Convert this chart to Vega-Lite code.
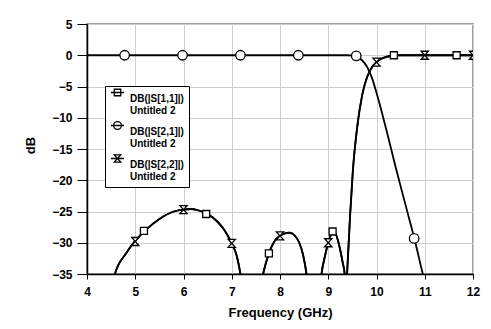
{
  "$schema": "https://vega.github.io/schema/vega-lite/v6.json",
  "width": 386,
  "height": 250,
  "autosize": {"type": "none"},
  "padding": {"left": 87, "top": 24, "right": 18, "bottom": 55},
  "background": "white",
  "config": {
    "view": {"stroke": "#808080", "strokeWidth": 1.5},
    "axis": {
      "labelFont": "Liberation Sans", "labelFontWeight": "bold", "labelFontSize": 12, "labelColor": "black",
      "titleFont": "Liberation Sans", "titleFontWeight": "bold", "titleFontSize": 13, "titleColor": "black",
      "domainColor": "black", "domainWidth": 1.5, "tickColor": "black", "tickWidth": 1,
      "gridColor": "#cfcfcf", "gridWidth": 1, "labelFlush": false, "labelOverlap": false
    },
    "legend": {
      "labelFont": "Liberation Sans", "labelFontWeight": "bold", "labelFontSize": 10, "labelColor": "black"
    }
  },
  "datasets": {
    "curves": [
      {"series": "DB(|S[2,1]|)", "freq": 4.0, "dB": 0},
      {"series": "DB(|S[2,1]|)", "freq": 9.4, "dB": 0},
      {"series": "DB(|S[2,1]|)", "freq": 9.5, "dB": -0.05},
      {"series": "DB(|S[2,1]|)", "freq": 9.6, "dB": -0.25},
      {"series": "DB(|S[2,1]|)", "freq": 9.7, "dB": -0.8},
      {"series": "DB(|S[2,1]|)", "freq": 9.8, "dB": -1.8},
      {"series": "DB(|S[2,1]|)", "freq": 9.9, "dB": -3.5},
      {"series": "DB(|S[2,1]|)", "freq": 10.0, "dB": -6.0},
      {"series": "DB(|S[2,1]|)", "freq": 10.2, "dB": -11.8},
      {"series": "DB(|S[2,1]|)", "freq": 10.4, "dB": -18.0},
      {"series": "DB(|S[2,1]|)", "freq": 10.6, "dB": -23.9},
      {"series": "DB(|S[2,1]|)", "freq": 10.8, "dB": -29.8},
      {"series": "DB(|S[2,1]|)", "freq": 10.96, "dB": -35},
      {"series": "DB(|S[2,1]|)", "freq": 11.1, "dB": -39},

      {"series": "DB(|S[1,1]|)", "freq": 4.3, "dB": -48},
      {"series": "DB(|S[1,1]|)", "freq": 4.58, "dB": -35},
      {"series": "DB(|S[1,1]|)", "freq": 4.8, "dB": -31.8},
      {"series": "DB(|S[1,1]|)", "freq": 5.0, "dB": -29.7},
      {"series": "DB(|S[1,1]|)", "freq": 5.2, "dB": -28.1},
      {"series": "DB(|S[1,1]|)", "freq": 5.5, "dB": -26.2},
      {"series": "DB(|S[1,1]|)", "freq": 5.8, "dB": -25.0},
      {"series": "DB(|S[1,1]|)", "freq": 6.0, "dB": -24.7},
      {"series": "DB(|S[1,1]|)", "freq": 6.15, "dB": -24.6},
      {"series": "DB(|S[1,1]|)", "freq": 6.3, "dB": -24.8},
      {"series": "DB(|S[1,1]|)", "freq": 6.5, "dB": -25.4},
      {"series": "DB(|S[1,1]|)", "freq": 6.7, "dB": -26.6},
      {"series": "DB(|S[1,1]|)", "freq": 6.85, "dB": -28.0},
      {"series": "DB(|S[1,1]|)", "freq": 7.0, "dB": -30.1},
      {"series": "DB(|S[1,1]|)", "freq": 7.1, "dB": -32.0},
      {"series": "DB(|S[1,1]|)", "freq": 7.18, "dB": -35},
      {"series": "DB(|S[1,1]|)", "freq": 7.3, "dB": -42},
      {"series": "DB(|S[1,1]|)", "freq": 7.5, "dB": -42},
      {"series": "DB(|S[1,1]|)", "freq": 7.65, "dB": -35},
      {"series": "DB(|S[1,1]|)", "freq": 7.77, "dB": -31.7},
      {"series": "DB(|S[1,1]|)", "freq": 7.9, "dB": -29.6},
      {"series": "DB(|S[1,1]|)", "freq": 8.0, "dB": -28.9},
      {"series": "DB(|S[1,1]|)", "freq": 8.1, "dB": -28.5},
      {"series": "DB(|S[1,1]|)", "freq": 8.2, "dB": -28.4},
      {"series": "DB(|S[1,1]|)", "freq": 8.3, "dB": -28.8},
      {"series": "DB(|S[1,1]|)", "freq": 8.4, "dB": -30.0},
      {"series": "DB(|S[1,1]|)", "freq": 8.48, "dB": -32.0},
      {"series": "DB(|S[1,1]|)", "freq": 8.55, "dB": -35},
      {"series": "DB(|S[1,1]|)", "freq": 8.65, "dB": -42},
      {"series": "DB(|S[1,1]|)", "freq": 8.78, "dB": -42},
      {"series": "DB(|S[1,1]|)", "freq": 8.86, "dB": -35},
      {"series": "DB(|S[1,1]|)", "freq": 8.93, "dB": -32.2},
      {"series": "DB(|S[1,1]|)", "freq": 9.0, "dB": -30.0},
      {"series": "DB(|S[1,1]|)", "freq": 9.05, "dB": -28.8},
      {"series": "DB(|S[1,1]|)", "freq": 9.1, "dB": -28.2},
      {"series": "DB(|S[1,1]|)", "freq": 9.15, "dB": -28.5},
      {"series": "DB(|S[1,1]|)", "freq": 9.22, "dB": -30.2},
      {"series": "DB(|S[1,1]|)", "freq": 9.3, "dB": -33.2},
      {"series": "DB(|S[1,1]|)", "freq": 9.34, "dB": -35},
      {"series": "DB(|S[1,1]|)", "freq": 9.365, "dB": -38},
      {"series": "DB(|S[1,1]|)", "freq": 9.39, "dB": -35},
      {"series": "DB(|S[1,1]|)", "freq": 9.45, "dB": -26},
      {"series": "DB(|S[1,1]|)", "freq": 9.51, "dB": -18.5},
      {"series": "DB(|S[1,1]|)", "freq": 9.6, "dB": -11.5},
      {"series": "DB(|S[1,1]|)", "freq": 9.7, "dB": -6.5},
      {"series": "DB(|S[1,1]|)", "freq": 9.8, "dB": -3.6},
      {"series": "DB(|S[1,1]|)", "freq": 9.9, "dB": -2.0},
      {"series": "DB(|S[1,1]|)", "freq": 10.0, "dB": -1.1},
      {"series": "DB(|S[1,1]|)", "freq": 10.1, "dB": -0.55},
      {"series": "DB(|S[1,1]|)", "freq": 10.2, "dB": -0.25},
      {"series": "DB(|S[1,1]|)", "freq": 10.3, "dB": -0.1},
      {"series": "DB(|S[1,1]|)", "freq": 10.4, "dB": 0},
      {"series": "DB(|S[1,1]|)", "freq": 12.0, "dB": 0},

      {"series": "DB(|S[2,2]|)", "freq": 4.3, "dB": -48},
      {"series": "DB(|S[2,2]|)", "freq": 4.58, "dB": -35},
      {"series": "DB(|S[2,2]|)", "freq": 4.8, "dB": -31.8},
      {"series": "DB(|S[2,2]|)", "freq": 5.0, "dB": -29.7},
      {"series": "DB(|S[2,2]|)", "freq": 5.2, "dB": -28.1},
      {"series": "DB(|S[2,2]|)", "freq": 5.5, "dB": -26.2},
      {"series": "DB(|S[2,2]|)", "freq": 5.8, "dB": -25.0},
      {"series": "DB(|S[2,2]|)", "freq": 6.0, "dB": -24.7},
      {"series": "DB(|S[2,2]|)", "freq": 6.15, "dB": -24.6},
      {"series": "DB(|S[2,2]|)", "freq": 6.3, "dB": -24.8},
      {"series": "DB(|S[2,2]|)", "freq": 6.5, "dB": -25.4},
      {"series": "DB(|S[2,2]|)", "freq": 6.7, "dB": -26.6},
      {"series": "DB(|S[2,2]|)", "freq": 6.85, "dB": -28.0},
      {"series": "DB(|S[2,2]|)", "freq": 7.0, "dB": -30.1},
      {"series": "DB(|S[2,2]|)", "freq": 7.1, "dB": -32.0},
      {"series": "DB(|S[2,2]|)", "freq": 7.18, "dB": -35},
      {"series": "DB(|S[2,2]|)", "freq": 7.3, "dB": -42},
      {"series": "DB(|S[2,2]|)", "freq": 7.5, "dB": -42},
      {"series": "DB(|S[2,2]|)", "freq": 7.65, "dB": -35},
      {"series": "DB(|S[2,2]|)", "freq": 7.77, "dB": -31.7},
      {"series": "DB(|S[2,2]|)", "freq": 7.9, "dB": -29.6},
      {"series": "DB(|S[2,2]|)", "freq": 8.0, "dB": -28.9},
      {"series": "DB(|S[2,2]|)", "freq": 8.1, "dB": -28.5},
      {"series": "DB(|S[2,2]|)", "freq": 8.2, "dB": -28.4},
      {"series": "DB(|S[2,2]|)", "freq": 8.3, "dB": -28.8},
      {"series": "DB(|S[2,2]|)", "freq": 8.4, "dB": -30.0},
      {"series": "DB(|S[2,2]|)", "freq": 8.48, "dB": -32.0},
      {"series": "DB(|S[2,2]|)", "freq": 8.55, "dB": -35},
      {"series": "DB(|S[2,2]|)", "freq": 8.65, "dB": -42},
      {"series": "DB(|S[2,2]|)", "freq": 8.78, "dB": -42},
      {"series": "DB(|S[2,2]|)", "freq": 8.86, "dB": -35},
      {"series": "DB(|S[2,2]|)", "freq": 8.93, "dB": -32.2},
      {"series": "DB(|S[2,2]|)", "freq": 9.0, "dB": -30.0},
      {"series": "DB(|S[2,2]|)", "freq": 9.05, "dB": -28.8},
      {"series": "DB(|S[2,2]|)", "freq": 9.1, "dB": -28.2},
      {"series": "DB(|S[2,2]|)", "freq": 9.15, "dB": -28.5},
      {"series": "DB(|S[2,2]|)", "freq": 9.22, "dB": -30.2},
      {"series": "DB(|S[2,2]|)", "freq": 9.3, "dB": -33.2},
      {"series": "DB(|S[2,2]|)", "freq": 9.34, "dB": -35},
      {"series": "DB(|S[2,2]|)", "freq": 9.365, "dB": -38},
      {"series": "DB(|S[2,2]|)", "freq": 9.39, "dB": -35},
      {"series": "DB(|S[2,2]|)", "freq": 9.45, "dB": -26},
      {"series": "DB(|S[2,2]|)", "freq": 9.51, "dB": -18.5},
      {"series": "DB(|S[2,2]|)", "freq": 9.6, "dB": -11.5},
      {"series": "DB(|S[2,2]|)", "freq": 9.7, "dB": -6.5},
      {"series": "DB(|S[2,2]|)", "freq": 9.8, "dB": -3.6},
      {"series": "DB(|S[2,2]|)", "freq": 9.9, "dB": -2.0},
      {"series": "DB(|S[2,2]|)", "freq": 10.0, "dB": -1.1},
      {"series": "DB(|S[2,2]|)", "freq": 10.1, "dB": -0.55},
      {"series": "DB(|S[2,2]|)", "freq": 10.2, "dB": -0.25},
      {"series": "DB(|S[2,2]|)", "freq": 10.3, "dB": -0.1},
      {"series": "DB(|S[2,2]|)", "freq": 10.4, "dB": 0},
      {"series": "DB(|S[2,2]|)", "freq": 12.0, "dB": 0}
    ],
    "markers": [
      {"series": "DB(|S[1,1]|)", "freq": 5.18, "dB": -28.1},
      {"series": "DB(|S[1,1]|)", "freq": 6.47, "dB": -25.4},
      {"series": "DB(|S[1,1]|)", "freq": 7.77, "dB": -31.7},
      {"series": "DB(|S[1,1]|)", "freq": 9.09, "dB": -28.2},
      {"series": "DB(|S[1,1]|)", "freq": 10.36, "dB": 0},
      {"series": "DB(|S[1,1]|)", "freq": 11.66, "dB": 0},
      {"series": "DB(|S[2,1]|)", "freq": 4.78, "dB": 0},
      {"series": "DB(|S[2,1]|)", "freq": 5.98, "dB": 0},
      {"series": "DB(|S[2,1]|)", "freq": 7.18, "dB": 0},
      {"series": "DB(|S[2,1]|)", "freq": 8.38, "dB": 0},
      {"series": "DB(|S[2,1]|)", "freq": 9.58, "dB": -0.1},
      {"series": "DB(|S[2,1]|)", "freq": 10.78, "dB": -29.3},
      {"series": "DB(|S[2,2]|)", "freq": 5.0, "dB": -29.8},
      {"series": "DB(|S[2,2]|)", "freq": 6.0, "dB": -24.7},
      {"series": "DB(|S[2,2]|)", "freq": 7.0, "dB": -30.1},
      {"series": "DB(|S[2,2]|)", "freq": 8.0, "dB": -28.9},
      {"series": "DB(|S[2,2]|)", "freq": 9.0, "dB": -30.0},
      {"series": "DB(|S[2,2]|)", "freq": 10.0, "dB": -1.1},
      {"series": "DB(|S[2,2]|)", "freq": 11.0, "dB": 0},
      {"series": "DB(|S[2,2]|)", "freq": 12.0, "dB": 0}
    ]
  },
  "encoding": {
    "x": {
      "field": "freq", "type": "quantitative",
      "scale": {"domain": [4, 12], "nice": false, "zero": false},
      "axis": {"values": [4, 5, 6, 7, 8, 9, 10, 11, 12], "title": "Frequency (GHz)", "tickSize": 5, "labelPadding": 7, "titlePadding": 9}
    },
    "y": {
      "field": "dB", "type": "quantitative",
      "scale": {"domain": [-35, 5], "nice": false, "zero": false},
      "axis": {"values": [-35, -30, -25, -20, -15, -10, -5, 0, 5], "title": "dB", "tickSize": 10, "labelPadding": 5, "titlePadding": 14, "titleY": 121}
    }
  },
  "layer": [
    {
      "data": {"name": "curves"},
      "mark": {"type": "line", "color": "black", "strokeWidth": 1.8, "clip": true, "interpolate": "monotone"},
      "encoding": {"detail": {"field": "series"}}
    },
    {
      "data": {"name": "markers"},
      "mark": {"type": "point", "filled": true, "fill": "white", "stroke": "black", "strokeWidth": 1.3, "opacity": 1, "clip": true, "size": 100},
      "encoding": {
        "shape": {
          "field": "series", "type": "nominal",
          "scale": {"domain": ["DB(|S[1,1]|)", "DB(|S[2,1]|)", "DB(|S[2,2]|)"], "range": ["M-0.7,-0.7H0.7V0.7H-0.7Z", "M0.95,0A0.95,0.95,0,1,1,-0.95,0A0.95,0.95,0,1,1,0.95,0Z", "M-0.72,-0.8H0.72L-0.72,0.8H0.72Z"]},
          "legend": null
        }
      }
    },
    {
      "data": {"name": "markers"},
      "transform": [{"filter": "false"}],
      "mark": {"type": "point", "filled": false, "color": "black", "strokeWidth": 1.3, "opacity": 1},
      "encoding": {
        "shape": {
          "field": "series", "type": "nominal",
          "scale": {"domain": ["DB(|S[1,1]|)", "DB(|S[2,1]|)", "DB(|S[2,2]|)"], "range": [
            "M-1,-0.92H1M-0.5,-1.42H0.5V-0.42H-0.5Z",
            "M-1,-0.92H1M0.6,-0.92A0.6,0.6,0,1,1,-0.6,-0.92A0.6,0.6,0,1,1,0.6,-0.92Z",
            "M-1,-0.92H1M-0.5,-1.47H0.5L-0.5,-0.37H0.5Z"
          ]},
          "legend": {
            "title": null, "orient": "none", "legendX": 18, "legendY": 62,
            "fillColor": "white", "strokeColor": "black", "padding": 5, "rowPadding": 3,
            "symbolSize": 169, "symbolStrokeWidth": 1.3, "symbolStrokeColor": "black", "symbolFillColor": "transparent",
            "labelOffset": 5, "labelBaseline": "middle", "labelLimit": 200,
            "labelExpr": "[datum.label, 'Untitled 2']"
          }
        }
      }
    }
  ],
  "resolve": {"scale": {"shape": "independent"}, "legend": {"shape": "independent"}}
}
